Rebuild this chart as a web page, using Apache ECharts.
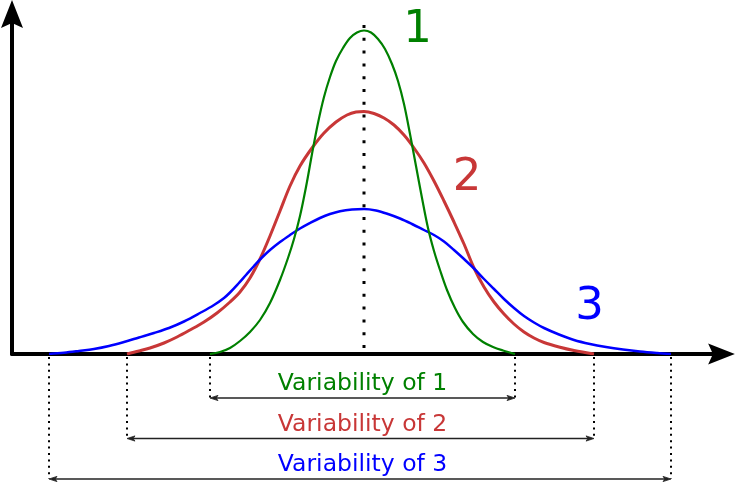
<!DOCTYPE html>
<html><head><meta charset="utf-8">
<script src="https://cdn.jsdelivr.net/npm/echarts@6/dist/echarts.min.js"></script>
<style>html,body{margin:0;padding:0;background:#fff}#c{width:741px;height:486px}</style>
</head><body><div id="c"></div>
<script>
// x: offset from the common mean, y: height above the baseline
const curve1 = [[-154,0],[-144,2],[-134,6],[-124,13],[-114,22],[-104,34],[-94,51],[-84,74],[-76,96],[-70,115],[-64,138],[-58,167],[-52,200],[-46,231],[-40,257],[-34,277],[-28,293],[-21,306],[-14,316],[-7,321.5],[0,323.5],[7,321.5],[14,315],[21,305],[28,290],[34,273],[40,250],[46,220],[52,188],[58,156],[64,126],[70,103],[76,84],[83,64],[91,46],[99,32],[109,20],[119,12],[129,7],[139,3.5],[151,0]];
const curve2 = [[-237,0],[-225,3],[-214,6],[-200,11],[-187,17],[-174,24],[-160,32],[-147,41],[-134,52],[-124,62],[-114,76],[-104,95],[-94,118],[-84,143],[-74,168],[-64,188],[-52,206],[-40,221],[-28,232],[-17,239],[-8,242],[0,242.5],[10,240.5],[20,236],[30,229],[40,219],[50,206],[60,191],[70,173],[80,153],[90,132],[100,110],[110,86],[120,67],[130,52],[140,40],[150,30],[160,22],[170,16],[180,11.5],[195,7],[210,3.5],[230,0]];
const curve3 = [[-315,0],[-300,1.2],[-285,3],[-270,5],[-255,8],[-240,12],[-225,16.5],[-210,21],[-195,26],[-180,32.5],[-164,41],[-150,49],[-140,56],[-134,61.5],[-126,70],[-118,79],[-110,88],[-102,96.5],[-94,104],[-84,112],[-74,119],[-64,125.5],[-54,131],[-44,136],[-34,140],[-24,142.8],[-12,144.5],[0,145],[12,143.5],[24,140],[36,135.5],[48,130],[60,124],[70,119],[80,112.5],[90,104],[100,95],[110,85.5],[120,75],[130,65],[140,55],[150,46],[160,38],[170,31.5],[180,26],[195,19.5],[210,14],[226,10],[242,7],[259,4.5],[276,2.5],[293,1],[307,0]];
const curveNames = ['1', '2', '3'];
const spreadLow = [-154, -237, -315];
const spreadHigh = [151, 230, 307];
const spreadLabels = ['Variability of 1', 'Variability of 2', 'Variability of 3'];
const meanLine = [[0, 329], [0, 0]];

const colors = ['#008000', '#c83737', '#0000ff'];
const labelPos = [[53.5, 323.6], [103, 175.5], [225.5, 47]];
const FONT = '"DejaVu Sans", "Liberation Sans", sans-serif';
const ARROW = 'path://M11,0 L22,28 L11,23 L0,28 Z';

const chart = echarts.init(document.getElementById('c'), null, {renderer: 'canvas'});
const hideAxis = {axisTick: {show: false}, axisLabel: {show: false}, splitLine: {show: false}};

function curveSeries(data, color, width, z) {
  return {type: 'line', data: data, showSymbol: false, smooth: 0.35, z: z,
    lineStyle: {color: color, width: width}, silent: true};
}

chart.setOption({
  animation: false,
  backgroundColor: '#fff',
  grid: {left: 12, right: 19.5, top: 14, bottom: 132},
  xAxis: Object.assign({type: 'value', min: -352, max: 357.5,
    axisLine: {show: true, onZero: false, symbol: ['none', ARROW], symbolSize: [21, 37],
      lineStyle: {color: '#000', width: 4}}}, hideAxis),
  yAxis: Object.assign({type: 'value', min: 0, max: 340,
    axisLine: {show: true, onZero: false, symbol: ['none', ARROW], symbolSize: [22, 28],
      lineStyle: {color: '#000', width: 4}}}, hideAxis),
  series: [
    curveSeries(curve2, colors[1], 3, 3),
    curveSeries(curve3, colors[2], 2.5, 4),
    curveSeries(curve1, colors[0], 2.2, 5),
    {type: 'line', data: meanLine, showSymbol: false, z: 6, silent: true,
      lineStyle: {color: '#000', width: 3, type: [3, 9.8], cap: 'butt'}},
    {type: 'custom', z: 7, silent: true, clip: false,
      data: labelPos.map((p, i) => [p[0], p[1], i]),
      renderItem: function (params, api) {
        const i = api.value(2);
        const pt = api.coord([api.value(0), api.value(1)]);
        return {type: 'text', style: {text: curveNames[i], x: pt[0], y: pt[1],
          fill: colors[i], font: '45px ' + FONT, align: 'center', verticalAlign: 'middle'}};
      }},
    {type: 'custom', z: 8, silent: true, clip: false,
      data: spreadLow.map((lo, i) => [lo, spreadHigh[i], i]),
      renderItem: function (params, api) {
        const i = api.value(2);
        const lo = api.coord([api.value(0), 0]);
        const hi = api.coord([api.value(1), 0]);
        const base = lo[1];
        const yLine = base + 44 + 40.5 * i;
        const top = base + 3;
        const tx = api.coord([-1.5, 0])[0];
        const dot = {stroke: '#000', lineWidth: 2, lineDash: [2, 4.4]};
        const head = 8, hw = 2.6;
        return {type: 'group', children: [
          {type: 'line', shape: {x1: lo[0], y1: top, x2: lo[0], y2: yLine}, style: dot},
          {type: 'line', shape: {x1: hi[0], y1: top, x2: hi[0], y2: yLine}, style: dot},
          {type: 'line', shape: {x1: lo[0] + 3, y1: yLine, x2: hi[0] - 3, y2: yLine},
            style: {stroke: '#222', lineWidth: 1.3}},
          {type: 'polygon', shape: {points: [[lo[0], yLine], [lo[0] + head, yLine - hw], [lo[0] + head - 2, yLine], [lo[0] + head, yLine + hw]]},
            style: {fill: '#222', stroke: '#222', lineWidth: 0.8}},
          {type: 'polygon', shape: {points: [[hi[0], yLine], [hi[0] - head, yLine - hw], [hi[0] - head + 2, yLine], [hi[0] - head, yLine + hw]]},
            style: {fill: '#222', stroke: '#222', lineWidth: 0.8}},
          {type: 'text', style: {text: spreadLabels[i], x: tx, y: yLine - 14,
            fill: colors[i], font: '23.5px ' + FONT, align: 'center', verticalAlign: 'middle'}}
        ]};
      }}
  ]
});
</script></body></html>
